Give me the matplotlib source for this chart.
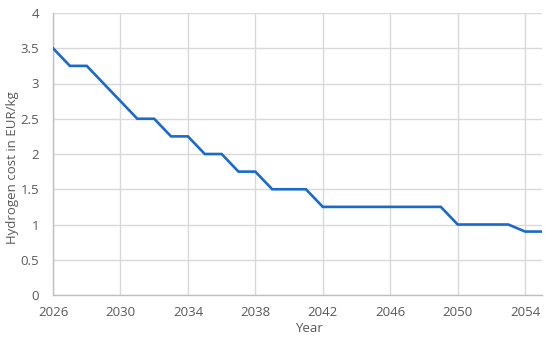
import matplotlib
matplotlib.use("Agg")
import matplotlib.pyplot as plt

years = list(range(2026, 2056))
cost = [3.5, 3.25, 3.25, 3.0, 2.75, 2.5, 2.5, 2.25, 2.25, 2.0,
        2.0, 1.75, 1.75, 1.5, 1.5, 1.5, 1.25, 1.25, 1.25, 1.25,
        1.25, 1.25, 1.25, 1.25, 1.0, 1.0, 1.0, 1.0, 0.9, 0.9]
xticks = list(range(2026, 2055, 4))
yticks = [0, 0.5, 1, 1.5, 2, 2.5, 3, 3.5, 4]
ytick_labels = ["0", "0.5", "1", "1.5", "2", "2.5", "3", "3.5", "4"]

plt.rcParams['font.family'] = ['Open Sans', 'DejaVu Sans']
tc = '#595959'

fig = plt.figure(figsize=(5.5, 3.4), dpi=100)
ax = fig.add_axes([53/550, 1 - 295/340, (542-53)/550, (295-13)/340])
ax.plot(years, cost, color='#1a6acb', lw=1.9, solid_joinstyle='miter', zorder=3)
ax.set_xlim(2026, 2055)
ax.set_ylim(0, 4)
ax.set_xticks(xticks)
ax.set_yticks(yticks)
ax.set_yticklabels(ytick_labels)
ax.grid(True, color='#d9d9d9', lw=1.0)
ax.set_axisbelow(True)
for s in ['top', 'right']:
    ax.spines[s].set_visible(False)
ax.spines['left'].set_color('#bfbfbf')
ax.spines['bottom'].set_color('#bfbfbf')
ax.spines['left'].set_linewidth(1.0)
ax.spines['bottom'].set_linewidth(1.0)
ax.tick_params(length=0, labelsize=9.5, colors=tc)
ax.tick_params(axis='x', pad=8)
ax.tick_params(axis='y', pad=10)
fig.text(309/550, 1 - 328/340, 'Year', ha='center', va='center', fontsize=9.5, color=tc)
fig.text(13/550, 1 - 168/340, 'Hydrogen cost in EUR/kg', ha='center', va='center',
         rotation=90, fontsize=9.5, color=tc)
fig.savefig('out.png', dpi=100)
